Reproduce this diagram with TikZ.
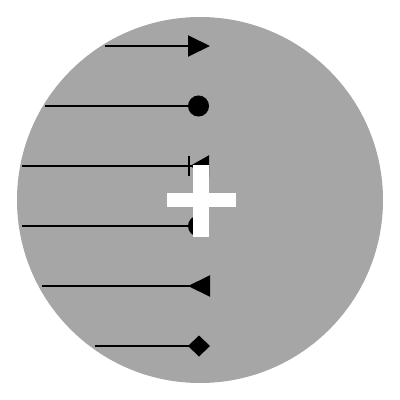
\documentclass[tikz,border=0pt]{standalone}
\usetikzlibrary{arrows.meta}
\definecolor{discgray}{RGB}{166,166,166}
\begin{document}
\begin{tikzpicture}[x=1pt,y=-1pt,
  conn/.style={line width=2pt,draw=black},
  plusbar/.style={fill=white,draw=none}]
\useasboundingbox (0,0) rectangle (400,400);
\fill[discgray] (200,200) circle[radius=183];
% line endpoints
\coordinate (s1) at (105,46);  \coordinate (e1) at (210,46);
\coordinate (s2) at (45,106);  \coordinate (e2) at (209,106);
\coordinate (s3) at (22,166);  \coordinate (e3) at (209,166);
\coordinate (s4) at (22,226);  \coordinate (e4) at (209,226);
\coordinate (s5) at (42,286);  \coordinate (e5) at (210,286);
\coordinate (s6) at (95,346);  \coordinate (e6) at (210,346);
\draw[conn,-{Triangle[length=22pt,width=21pt]}] (s1) -- (e1);
\draw[conn,-{Circle[length=21pt]}] (s2) -- (e2);
\draw[conn,-{Bar[width=20pt,line width=2pt]Triangle[reversed,length=19pt,width=21pt,sep=0pt]}] (s3) -- (e3);
\draw[conn,-{Circle[length=21pt]}] (s4) -- (e4);
\draw[conn,-{Triangle[reversed,length=22pt,width=21pt]}] (s5) -- (e5);
\draw[conn,-{Diamond[length=22pt,width=21pt]}] (s6) -- (e6);
% white plus
\fill[plusbar] (167,193) rectangle (236,207);
\fill[plusbar] (193,165) rectangle (209,237);
\end{tikzpicture}
\end{document}
